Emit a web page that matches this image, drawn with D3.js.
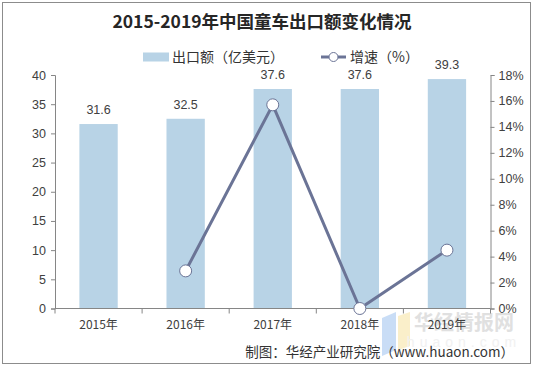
<!DOCTYPE html>
<html><head><meta charset="utf-8">
<script src="https://cdn.jsdelivr.net/npm/d3@7"></script>
<style>
html,body{margin:0;padding:0;background:#fff;}
svg{display:block;font-family:"Liberation Sans",Arial,"Noto Sans CJK SC",sans-serif;}
</style></head>
<body>
<svg id="c" width="534" height="367"></svg>
<script>
const categories = ["2015年","2016年","2017年","2018年","2019年"];
const exportValues = [31.6, 32.5, 37.6, 37.6, 39.3];
const growthRates = [null, 2.9, 15.7, 0.0, 4.5];
const leftTicks = [0,5,10,15,20,25,30,35,40];
const rightTicks = [0,2,4,6,8,10,12,14,16,18];
const titleText = "2015-2019年中国童车出口额变化情况";
const legendBar = "出口额（亿美元）";
const legendLine = "增速（%）";
const sourceText = "制图：华经产业研究院（www.huaon.com）";

const svg = d3.select("#c");
const m = {l:55, r:490.5, t:75, b:308.5};
const cjk = '"Noto Sans CJK SC","Liberation Sans",sans-serif';

svg.append("rect").attr("x",2.5).attr("y",2.5).attr("width",528).attr("height",361)
  .attr("fill","#fff").attr("stroke","#8c8c8c").attr("stroke-width",1);

const x = d3.scaleBand().domain(categories).range([m.l, m.r]).paddingInner(0.56).paddingOuter(0.28);
const yL = d3.scaleLinear().domain([0,40]).range([m.b, m.t]);
const yR = d3.scaleLinear().domain([0,18]).range([m.b, m.t]);

// watermark (decorative, faint)
const wm = svg.append("g").attr("opacity",0.55);
wm.append("path").attr("d","M382,318 L396,312 L396,350 L382,356 Z").attr("fill","#9ec3f0");
wm.append("path").attr("d","M398,316 L410,312 L410,346 L398,350 Z").attr("fill","#f7e3a0");
wm.append("text").attr("x",464).attr("y",330).attr("text-anchor","middle")
  .attr("font-family",cjk).attr("font-weight","bold").attr("font-size",20).attr("fill","#c8c8c8").text("华经情报网");
wm.append("text").attr("x",464).attr("y",347).attr("text-anchor","middle")
  .attr("font-size",14).attr("letter-spacing",5).attr("fill","#e6e6e6").text("huaon.com");

// bars
svg.append("g").selectAll("rect").data(exportValues).join("rect")
  .attr("x",(d,i)=>x(categories[i])).attr("width",x.bandwidth())
  .attr("y",d=>yL(d)).attr("height",d=>yL(0)-yL(d)).attr("fill","#b8d3e6");

// bar labels
svg.append("g").selectAll("text").data(exportValues).join("text")
  .attr("x",(d,i)=>x(categories[i])+x.bandwidth()/2).attr("y",d=>yL(d)-10)
  .attr("text-anchor","middle").attr("font-size",12.5).attr("fill","#404040").text(d=>d.toFixed(1));

// axes
const axL = svg.append("g").attr("transform",`translate(${m.l},0)`)
  .call(d3.axisLeft(yL).tickValues(leftTicks).tickSize(4).tickPadding(5));
const axR = svg.append("g").attr("transform",`translate(${m.r},0)`)
  .call(d3.axisRight(yR).tickValues(rightTicks).tickSize(4).tickPadding(4).tickFormat(d=>d+"%"));
const bandEdges = categories.map(c=>x(c)-x.step()*x.paddingInner()/2).concat([m.r]);
const axB = svg.append("g").attr("transform",`translate(0,${m.b})`);
axB.append("line").attr("x1",m.l).attr("x2",m.r).attr("stroke","#868686");
axB.selectAll("line.t").data(bandEdges).join("line").attr("class","t")
  .attr("x1",d=>d).attr("x2",d=>d).attr("y1",0).attr("y2",5).attr("stroke","#868686");
axB.selectAll("text").data(categories).join("text")
  .attr("x",d=>x(d)+x.bandwidth()/2).attr("y",20).attr("text-anchor","middle")
  .attr("font-family",cjk).attr("font-size",12).attr("fill","#404040").text(d=>d);
[axL,axR].forEach(a=>{
  a.select(".domain").attr("stroke","#868686");
  a.selectAll(".tick line").attr("stroke","#868686");
  a.selectAll(".tick text").attr("font-size",12.5).attr("fill","#404040")
    .attr("font-family",'"Liberation Sans",Arial,sans-serif');
});

// line
const pts = growthRates.map((v,i)=>({v,c:categories[i]})).filter(d=>d.v!==null);
const line = d3.line().x(d=>x(d.c)+x.bandwidth()/2).y(d=>yR(d.v));
svg.append("path").datum(pts).attr("d",line).attr("fill","none")
  .attr("stroke","#6b7496").attr("stroke-width",3).attr("stroke-linejoin","round");
svg.append("g").selectAll("circle").data(pts).join("circle")
  .attr("cx",d=>x(d.c)+x.bandwidth()/2).attr("cy",d=>yR(d.v)).attr("r",6)
  .attr("fill","#fff").attr("stroke","#6b7496").attr("stroke-width",1);

// title
svg.append("text").attr("x",262).attr("y",28).attr("text-anchor","middle")
  .attr("font-family",'"Noto Sans CJK SC",sans-serif').attr("font-weight","bold")
  .attr("font-size",17.5).attr("fill","#262626").text(titleText);

// legend
const lg = svg.append("g");
lg.append("rect").attr("x",143).attr("y",52.5).attr("width",26).attr("height",9).attr("fill","#b8d3e6");
lg.append("text").attr("x",172).attr("y",62).attr("font-family",cjk).attr("font-size",14)
  .attr("fill","#333").text(legendBar);
lg.append("line").attr("x1",321).attr("x2",346).attr("y1",57).attr("y2",57)
  .attr("stroke","#6b7496").attr("stroke-width",3);
lg.append("circle").attr("cx",333.5).attr("cy",57).attr("r",4.5).attr("fill","#fff")
  .attr("stroke","#6b7496").attr("stroke-width",1);
lg.append("text").attr("x",350).attr("y",62).attr("font-family",cjk).attr("font-size",14)
  .attr("fill","#333").text(legendLine);

// source
svg.append("text").attr("x",514).attr("y",357).attr("text-anchor","end")
  .attr("font-family",cjk).attr("font-size",13.5).attr("fill","#333").text(sourceText);
</script>
</body></html>
